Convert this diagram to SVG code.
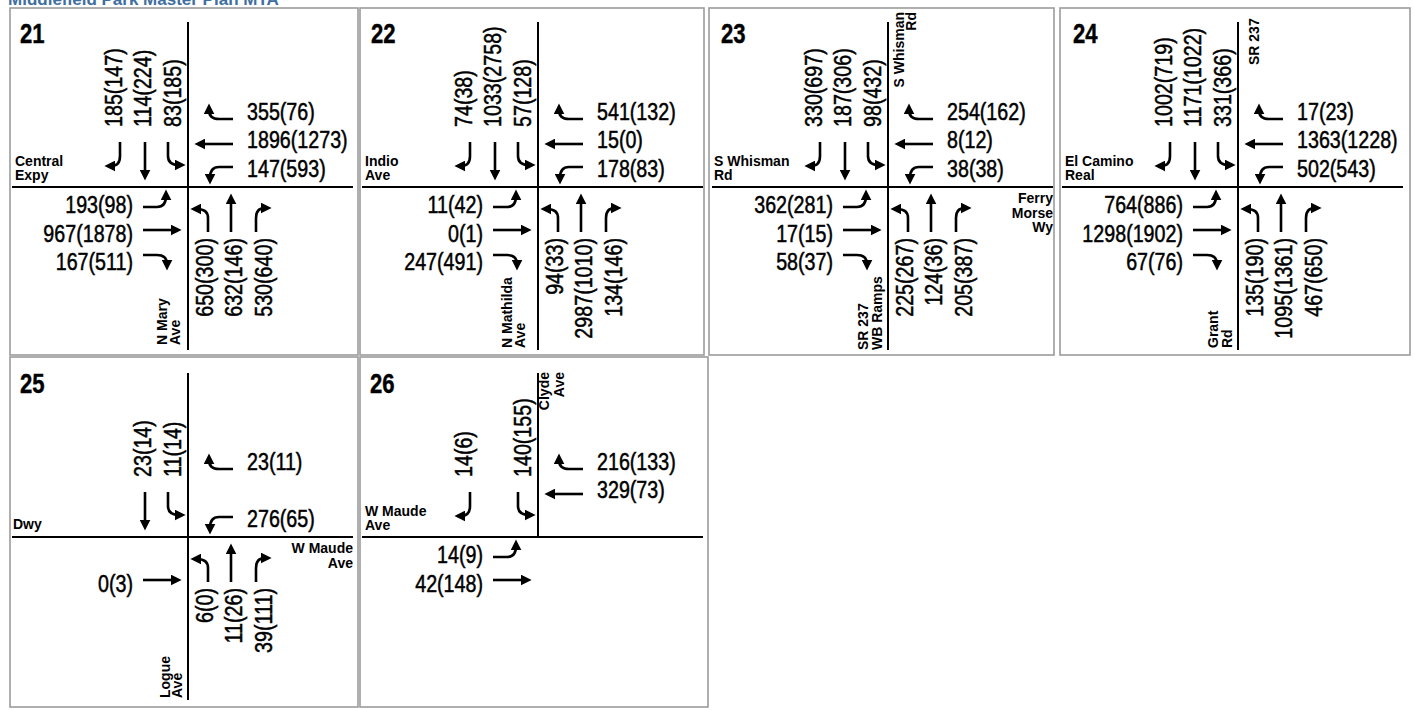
<svg xmlns="http://www.w3.org/2000/svg" xmlns:xlink="http://www.w3.org/1999/xlink" width="1414" height="710" viewBox="0 0 1414 710">
<style>
.frame{fill:#fff;stroke:#9c9c9c;stroke-width:1.6}
.road{stroke:#000;stroke-width:2;fill:none}
.arr{fill:none;stroke:#000;stroke-width:2.6;marker-end:url(#ah)}
.v{font-family:"Liberation Sans",Arial,sans-serif;font-size:24px;fill:#000;stroke:#000;stroke-width:0.5}
.e{text-anchor:end}
.rn{font-family:"Liberation Sans",Arial,sans-serif;font-size:14px;font-weight:bold;fill:#000}
.id{font-family:"Liberation Sans",Arial,sans-serif;font-size:27px;font-weight:bold;fill:#000;stroke:#000;stroke-width:0.4}
.title{font-family:"Liberation Sans",Arial,sans-serif;font-size:17px;font-weight:bold;fill:#3f6fa0}
</style>
<defs>
<marker id="ah" viewBox="0 0 10 10" refX="4" refY="5" markerWidth="11" markerHeight="11" markerUnits="userSpaceOnUse" orient="auto"><path d="M0,0 L10,5 L0,10 z" fill="#000"/></marker>
<path id="rt" class="arr" d="M-68,-45 V-31 Q-68,-21 -77,-21"/>
<path id="th" class="arr" d="M-43,-45 V-13"/>
<path id="lt" class="arr" d="M-20,-45 V-31 Q-20,-22 -9,-22"/>
</defs>
<rect width="1414" height="710" fill="#fff"/>
<text class="title" x="8" y="5">Middlefield Park Master Plan MTA</text>

<!-- 21 -->
<g id="int21">
<rect class="frame" x="10" y="8" width="348" height="347"/>
<line class="road" x1="188" y1="22" x2="188" y2="350"/>
<line class="road" x1="12" y1="187" x2="353" y2="187"/>
<text class="id" transform="translate(20,43) scale(0.82,1)">21</text>
<text class="rn" x="15" y="166">Central</text><text class="rn" x="15" y="180">Expy</text>
<text class="rn" transform="translate(167,345) rotate(-90)">N Mary</text>
<text class="rn" transform="translate(180,345) rotate(-90)">Ave</text>
<g class="moves">
<use href="#rt" transform="translate(188,187)"/><use href="#th" transform="translate(188,187)"/><use href="#lt" transform="translate(188,187)"/>
<use href="#rt" transform="translate(188,187) rotate(90)"/><use href="#th" transform="translate(188,187) rotate(90)"/><use href="#lt" transform="translate(188,187) rotate(90)"/>
<use href="#rt" transform="translate(188,187) rotate(-90)"/><use href="#th" transform="translate(188,187) rotate(-90)"/><use href="#lt" transform="translate(188,187) rotate(-90)"/>
<use href="#rt" transform="translate(188,187) rotate(180)"/><use href="#th" transform="translate(188,187) rotate(180)"/><use href="#lt" transform="translate(188,187) rotate(180)"/>
</g>
<text class="v" transform="translate(122,127) rotate(-90) scale(0.82,1)">185(147)</text>
<text class="v" transform="translate(151,127) rotate(-90) scale(0.82,1)">114(224)</text>
<text class="v" transform="translate(181,127) rotate(-90) scale(0.82,1)">83(185)</text>
<text class="v" transform="translate(247,120) scale(0.82,1)">355(76)</text>
<text class="v" transform="translate(247,148) scale(0.82,1)">1896(1273)</text>
<text class="v" transform="translate(247,177) scale(0.82,1)">147(593)</text>
<text class="v e" transform="translate(133,213) scale(0.82,1)">193(98)</text>
<text class="v e" transform="translate(133,242) scale(0.82,1)">967(1878)</text>
<text class="v e" transform="translate(133,270) scale(0.82,1)">167(511)</text>
<text class="v e" transform="translate(213,238) rotate(-90) scale(0.82,1)">650(300)</text>
<text class="v e" transform="translate(242,238) rotate(-90) scale(0.82,1)">632(146)</text>
<text class="v e" transform="translate(272,238) rotate(-90) scale(0.82,1)">530(640)</text>
</g>

<!-- 22 -->
<g id="int22" transform="translate(350,0)">
<rect class="frame" x="10" y="8" width="344" height="347"/>
<line class="road" x1="188" y1="22" x2="188" y2="350"/>
<line class="road" x1="12" y1="187" x2="353" y2="187"/>
<text class="id" transform="translate(21,43) scale(0.82,1)">22</text>
<text class="rn" x="15" y="166">Indio</text><text class="rn" x="15" y="180">Ave</text>
<text class="rn" transform="translate(162,348) rotate(-90)">N Mathilda</text>
<text class="rn" transform="translate(175,348) rotate(-90)">Ave</text>
<g class="moves">
<use href="#rt" transform="translate(188,187)"/><use href="#th" transform="translate(188,187)"/><use href="#lt" transform="translate(188,187)"/>
<use href="#rt" transform="translate(188,187) rotate(90)"/><use href="#th" transform="translate(188,187) rotate(90)"/><use href="#lt" transform="translate(188,187) rotate(90)"/>
<use href="#rt" transform="translate(188,187) rotate(-90)"/><use href="#th" transform="translate(188,187) rotate(-90)"/><use href="#lt" transform="translate(188,187) rotate(-90)"/>
<use href="#rt" transform="translate(188,187) rotate(180)"/><use href="#th" transform="translate(188,187) rotate(180)"/><use href="#lt" transform="translate(188,187) rotate(180)"/>
</g>
<text class="v" transform="translate(122,127) rotate(-90) scale(0.82,1)">74(38)</text>
<text class="v" transform="translate(151,127) rotate(-90) scale(0.82,1)">1033(2758)</text>
<text class="v" transform="translate(181,127) rotate(-90) scale(0.82,1)">57(128)</text>
<text class="v" transform="translate(247,120) scale(0.82,1)">541(132)</text>
<text class="v" transform="translate(247,148) scale(0.82,1)">15(0)</text>
<text class="v" transform="translate(247,177) scale(0.82,1)">178(83)</text>
<text class="v e" transform="translate(133,213) scale(0.82,1)">11(42)</text>
<text class="v e" transform="translate(133,242) scale(0.82,1)">0(1)</text>
<text class="v e" transform="translate(133,270) scale(0.82,1)">247(491)</text>
<text class="v e" transform="translate(213,238) rotate(-90) scale(0.82,1)">94(33)</text>
<text class="v e" transform="translate(242,238) rotate(-90) scale(0.82,1)">2987(1010)</text>
<text class="v e" transform="translate(272,238) rotate(-90) scale(0.82,1)">134(146)</text>
</g>

<!-- 23 -->
<g id="int23" transform="translate(700,0)">
<rect class="frame" x="9" y="8" width="345" height="347"/>
<line class="road" x1="188" y1="22" x2="188" y2="350"/>
<line class="road" x1="12" y1="187" x2="353" y2="187"/>
<text class="id" transform="translate(21,43) scale(0.82,1)">23</text>
<text class="rn" x="14" y="166">S Whisman</text><text class="rn" x="14" y="180">Rd</text>
<text class="rn e" transform="translate(204,12) rotate(-90)">S Whisman</text>
<text class="rn e" transform="translate(216,12) rotate(-90)">Rd</text>
<text class="rn e" x="353" y="203">Ferry</text><text class="rn e" x="353" y="218">Morse</text><text class="rn e" x="353" y="232">Wy</text>
<text class="rn" transform="translate(168,350) rotate(-90)">SR 237</text>
<text class="rn" transform="translate(182,350) rotate(-90)">WB Ramps</text>
<g class="moves">
<use href="#rt" transform="translate(188,187)"/><use href="#th" transform="translate(188,187)"/><use href="#lt" transform="translate(188,187)"/>
<use href="#rt" transform="translate(188,187) rotate(90)"/><use href="#th" transform="translate(188,187) rotate(90)"/><use href="#lt" transform="translate(188,187) rotate(90)"/>
<use href="#rt" transform="translate(188,187) rotate(-90)"/><use href="#th" transform="translate(188,187) rotate(-90)"/><use href="#lt" transform="translate(188,187) rotate(-90)"/>
<use href="#rt" transform="translate(188,187) rotate(180)"/><use href="#th" transform="translate(188,187) rotate(180)"/><use href="#lt" transform="translate(188,187) rotate(180)"/>
</g>
<text class="v" transform="translate(122,127) rotate(-90) scale(0.82,1)">330(697)</text>
<text class="v" transform="translate(151,127) rotate(-90) scale(0.82,1)">187(306)</text>
<text class="v" transform="translate(181,127) rotate(-90) scale(0.82,1)">98(432)</text>
<text class="v" transform="translate(247,120) scale(0.82,1)">254(162)</text>
<text class="v" transform="translate(247,148) scale(0.82,1)">8(12)</text>
<text class="v" transform="translate(247,177) scale(0.82,1)">38(38)</text>
<text class="v e" transform="translate(133,213) scale(0.82,1)">362(281)</text>
<text class="v e" transform="translate(133,242) scale(0.82,1)">17(15)</text>
<text class="v e" transform="translate(133,270) scale(0.82,1)">58(37)</text>
<text class="v e" transform="translate(213,238) rotate(-90) scale(0.82,1)">225(267)</text>
<text class="v e" transform="translate(242,238) rotate(-90) scale(0.82,1)">124(36)</text>
<text class="v e" transform="translate(272,238) rotate(-90) scale(0.82,1)">205(387)</text>
</g>

<!-- 24 -->
<g id="int24" transform="translate(1050,0)">
<rect class="frame" x="10" y="8" width="350" height="347"/>
<line class="road" x1="188" y1="22" x2="188" y2="350"/>
<line class="road" x1="12" y1="187" x2="353" y2="187"/>
<text class="id" transform="translate(23,43) scale(0.82,1)">24</text>
<text class="rn" x="15" y="166">El Camino</text><text class="rn" x="15" y="180">Real</text>
<text class="rn" transform="translate(209,65) rotate(-90)">SR 237</text>
<text class="rn" transform="translate(168,348) rotate(-90)">Grant</text>
<text class="rn" transform="translate(182,348) rotate(-90)">Rd</text>
<g class="moves">
<use href="#rt" transform="translate(188,187)"/><use href="#th" transform="translate(188,187)"/><use href="#lt" transform="translate(188,187)"/>
<use href="#rt" transform="translate(188,187) rotate(90)"/><use href="#th" transform="translate(188,187) rotate(90)"/><use href="#lt" transform="translate(188,187) rotate(90)"/>
<use href="#rt" transform="translate(188,187) rotate(-90)"/><use href="#th" transform="translate(188,187) rotate(-90)"/><use href="#lt" transform="translate(188,187) rotate(-90)"/>
<use href="#rt" transform="translate(188,187) rotate(180)"/><use href="#th" transform="translate(188,187) rotate(180)"/><use href="#lt" transform="translate(188,187) rotate(180)"/>
</g>
<text class="v" transform="translate(122,127) rotate(-90) scale(0.82,1)">1002(719)</text>
<text class="v" transform="translate(151,127) rotate(-90) scale(0.82,1)">1171(1022)</text>
<text class="v" transform="translate(181,127) rotate(-90) scale(0.82,1)">331(366)</text>
<text class="v" transform="translate(247,120) scale(0.82,1)">17(23)</text>
<text class="v" transform="translate(247,148) scale(0.82,1)">1363(1228)</text>
<text class="v" transform="translate(247,177) scale(0.82,1)">502(543)</text>
<text class="v e" transform="translate(133,213) scale(0.82,1)">764(886)</text>
<text class="v e" transform="translate(133,242) scale(0.82,1)">1298(1902)</text>
<text class="v e" transform="translate(133,270) scale(0.82,1)">67(76)</text>
<text class="v e" transform="translate(213,238) rotate(-90) scale(0.82,1)">135(190)</text>
<text class="v e" transform="translate(242,238) rotate(-90) scale(0.82,1)">1095(1361)</text>
<text class="v e" transform="translate(272,238) rotate(-90) scale(0.82,1)">467(650)</text>
</g>

<!-- 25 -->
<g id="int25" transform="translate(0,350)">
<rect class="frame" x="10" y="7" width="348" height="350"/>
<line class="road" x1="188" y1="23" x2="188" y2="350"/>
<line class="road" x1="12" y1="187" x2="353" y2="187"/>
<text class="id" transform="translate(20,43) scale(0.82,1)">25</text>
<text class="rn" x="13" y="179">Dwy</text>
<text class="rn e" x="353" y="203">W Maude</text><text class="rn e" x="353" y="218">Ave</text>
<text class="rn" transform="translate(170,348) rotate(-90)">Logue</text>
<text class="rn" transform="translate(182,348) rotate(-90)">Ave</text>
<g class="moves">
<use href="#th" transform="translate(188,187)"/><use href="#lt" transform="translate(188,187)"/>
<use href="#rt" transform="translate(188,187) rotate(90)"/><use href="#lt" transform="translate(188,187) rotate(90)"/>
<use href="#th" transform="translate(188,187) rotate(-90)"/>
<use href="#rt" transform="translate(188,187) rotate(180)"/><use href="#th" transform="translate(188,187) rotate(180)"/><use href="#lt" transform="translate(188,187) rotate(180)"/>
</g>
<text class="v" transform="translate(151,127) rotate(-90) scale(0.82,1)">23(14)</text>
<text class="v" transform="translate(181,127) rotate(-90) scale(0.82,1)">11(14)</text>
<text class="v" transform="translate(247,120) scale(0.82,1)">23(11)</text>
<text class="v" transform="translate(247,177) scale(0.82,1)">276(65)</text>
<text class="v e" transform="translate(133,242) scale(0.82,1)">0(3)</text>
<text class="v e" transform="translate(213,238) rotate(-90) scale(0.82,1)">6(0)</text>
<text class="v e" transform="translate(242,238) rotate(-90) scale(0.82,1)">11(26)</text>
<text class="v e" transform="translate(272,238) rotate(-90) scale(0.82,1)">39(111)</text>
</g>

<!-- 26 -->
<g id="int26" transform="translate(350,350)">
<rect class="frame" x="10" y="7" width="348" height="350"/>
<line class="road" x1="188" y1="23" x2="188" y2="187"/>
<line class="road" x1="12" y1="187" x2="353" y2="187"/>
<text class="id" transform="translate(20,43) scale(0.82,1)">26</text>
<text class="rn" x="15" y="166">W Maude</text><text class="rn" x="15" y="180">Ave</text>
<text class="rn e" transform="translate(199,22) rotate(-90)">Clyde</text>
<text class="rn e" transform="translate(214,22) rotate(-90)">Ave</text>
<g class="moves">
<use href="#rt" transform="translate(188,187)"/><use href="#lt" transform="translate(188,187)"/>
<use href="#rt" transform="translate(188,187) rotate(90)"/><use href="#th" transform="translate(188,187) rotate(90)"/>
<use href="#th" transform="translate(188,187) rotate(-90)"/><use href="#lt" transform="translate(188,187) rotate(-90)"/>
</g>
<text class="v" transform="translate(122,127) rotate(-90) scale(0.82,1)">14(6)</text>
<text class="v" transform="translate(181,127) rotate(-90) scale(0.82,1)">140(155)</text>
<text class="v" transform="translate(247,120) scale(0.82,1)">216(133)</text>
<text class="v" transform="translate(247,148) scale(0.82,1)">329(73)</text>
<text class="v e" transform="translate(133,213) scale(0.82,1)">14(9)</text>
<text class="v e" transform="translate(133,242) scale(0.82,1)">42(148)</text>
</g>
</svg>
